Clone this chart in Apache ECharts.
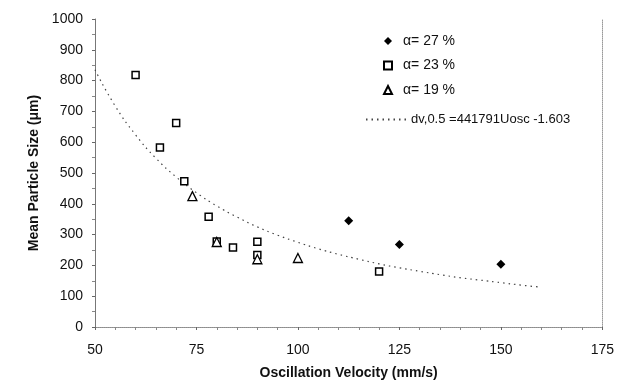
<!DOCTYPE html>
<html>
<head>
<meta charset="utf-8">
<script src="https://cdn.jsdelivr.net/npm/echarts@6/dist/echarts.min.js"></script>
<style>
html,body{margin:0;padding:0;background:#fff;}
#chart{width:617px;height:386px;}
</style>
</head>
<body>
<div id="chart"></div>
<script>
// Series data: [velocity mm/s, mean size um]
var alpha27 = [[112.5, 345], [125, 268], [150, 204]];
var alpha23 = [[60, 818], [66, 583], [70, 662], [72, 473], [78, 358], [80, 278], [84, 258], [90, 277], [90, 234], [120, 180]];
var alpha19 = [[74, 425], [80, 276], [90, 220], [100, 224]];
// Trend line points
var fitX = [50, 55, 60, 65, 70, 75, 80, 85, 90, 95, 100, 105, 110, 115, 120, 125, 130, 135, 140, 145, 150, 155, 160];
var fitY = [835, 717, 624, 548, 487, 436, 393, 357, 325, 298, 275, 254, 236, 220, 205, 192, 181, 170, 160, 152, 144, 136, 129];
var seriesNames = ['\u03b1= 27 %', '\u03b1= 23 %', '\u03b1= 19 %', 'dv,0.5 =441791Uosc -1.603'];
var xTicks = [50, 75, 100, 125, 150, 175];
var yTicks = [0, 100, 200, 300, 400, 500, 600, 700, 800, 900, 1000];

var fitData = fitX.map(function (x, i) { return [x, fitY[i]]; });
var font = 'Liberation Sans, Arial, sans-serif';
var chart = echarts.init(document.getElementById('chart'), null, {renderer: 'canvas'});
chart.setOption({
  animation: false,
  backgroundColor: '#fff',
  textStyle: {fontFamily: font},
  grid: {left: 95, right: 12, top: 19, bottom: 59},
  legend: [{
    data: seriesNames.slice(0, 3),
    orient: 'vertical',
    left: 383, top: 34, padding: 0,
    itemWidth: 8, itemHeight: 8,
    itemGap: 10.5,
    textStyle: {fontSize: 14, lineHeight: 14, color: '#111', fontFamily: font, padding: [0, 0, 0, 6]}
  }, {
    data: [seriesNames[3]],
    left: 365, top: 113, padding: 0,
    itemWidth: 40, itemHeight: 12,
    itemStyle: {opacity: 0},
    textStyle: {fontSize: 13, color: '#111', fontFamily: font}
  }],
  xAxis: [{
    type: 'value', min: xTicks[0], max: xTicks[xTicks.length - 1], interval: 25,
    name: 'Oscillation Velocity (mm/s)', nameLocation: 'middle', nameGap: 39,
    nameTextStyle: {fontSize: 14, fontWeight: 'bold', color: '#111', fontFamily: font},
    axisLine: {lineStyle: {color: '#777', width: 1}},
    axisTick: {show: true, inside: false, length: 3, lineStyle: {color: '#666'}},
    minorTick: {show: true, splitNumber: 5, length: 3, lineStyle: {color: '#888'}},
    axisLabel: {fontSize: 14, color: '#111', margin: 16, fontFamily: font},
    splitLine: {show: false}
  }, {
    type: 'value', position: 'top', min: 50, max: 175,
    axisLine: {show: true, lineStyle: {color: '#999', type: 'dotted'}},
    axisTick: {show: false}, axisLabel: {show: false}, splitLine: {show: false}
  }],
  yAxis: [{
    type: 'value', min: yTicks[0], max: yTicks[yTicks.length - 1], interval: 100,
    name: 'Mean Particle Size (\u03bcm)', nameLocation: 'middle', nameGap: 40,
    nameTextStyle: {fontSize: 14, fontWeight: 'bold', color: '#111', fontFamily: font},
    axisLine: {show: true, lineStyle: {color: '#777', width: 1}},
    axisTick: {show: true, length: 3, lineStyle: {color: '#666'}},
    minorTick: {show: true, splitNumber: 2, length: 3, lineStyle: {color: '#888'}},
    axisLabel: {fontSize: 14, color: '#111', margin: 12, fontFamily: font,
      formatter: function (v) { return String(v); }},
    splitLine: {show: false}
  }, {
    type: 'value', position: 'right', min: 0, max: 1000,
    axisLine: {show: true, lineStyle: {color: '#999', type: 'dotted'}},
    axisTick: {show: false}, axisLabel: {show: false}, splitLine: {show: false}
  }],
  series: [{
    name: seriesNames[0], type: 'scatter', data: alpha27,
    symbol: 'diamond', symbolSize: 9,
    itemStyle: {color: '#000', borderColor: '#000', borderWidth: 0, opacity: 1}
  }, {
    name: seriesNames[1], type: 'scatter', data: alpha23,
    symbol: 'rect', symbolSize: 7,
    itemStyle: {color: '#fff', borderColor: '#000', borderWidth: 1.5, opacity: 1}
  }, {
    name: seriesNames[2], type: 'scatter', data: alpha19,
    symbol: 'triangle', symbolSize: 9,
    itemStyle: {color: '#fff', borderColor: '#000', borderWidth: 1.3, opacity: 1}
  }, {
    name: seriesNames[3], type: 'line', data: fitData, smooth: true,
    showSymbol: false, symbol: 'none', z: 1,
    lineStyle: {color: '#444', width: 1.2, type: [1.5, 4]},
    itemStyle: {color: '#444'}
  }]
});
</script>
</body>
</html>
